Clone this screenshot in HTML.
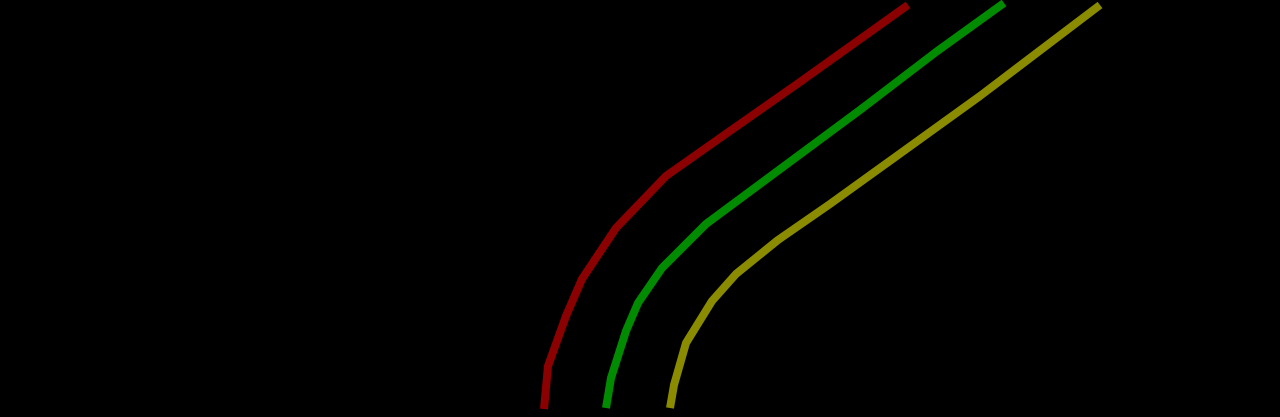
<!DOCTYPE html>
<html><head><meta charset="utf-8"><style>
html,body{margin:0;padding:0;background:#000;width:1280px;height:417px;overflow:hidden}
svg{display:block}
</style></head><body>
<svg id="chart" width="1280" height="417" viewBox="0 0 1280 417">
<rect width="1280" height="417" fill="#000"/>
<g id="plot"></g>
</svg>
<script>
const redX=[544,548,566,582,616,666,720,800,908];
const redY=[8,51,101,138,189,241,279,335,412];
const greenX=[606,611,626,638,662,706,760,860,936,1004];
const greenY=[9,39,86,114,149,193,233,307,365,414];
const oliveX=[670,674,686,712,736,778,830,880,980,1100];
const oliveY=[9,32,74,116,143,177,213,249,321,412];
const seriesNames=['series-red','series-green','series-olive'];
const seriesColors=['#8b0000','#008b00','#8b8b00'];

function xScale(v){return v/1280*1280;}
function yScale(v){return 417-v/417*417;}

const plot=document.getElementById('plot');
const all=[[redX,redY],[greenX,greenY],[oliveX,oliveY]];
all.forEach(function(s,i){
  const pts=s[0].map(function(x,j){return xScale(x).toFixed(1)+','+yScale(s[1][j]).toFixed(1);}).join(' ');
  const pl=document.createElementNS('http://www.w3.org/2000/svg','polyline');
  pl.setAttribute('points',pts);
  pl.setAttribute('fill','none');
  pl.setAttribute('stroke',seriesColors[i]);
  pl.setAttribute('stroke-width','8');
  pl.setAttribute('stroke-linejoin','round');
  
  
  plot.appendChild(pl);
});
</script>
</body></html>
